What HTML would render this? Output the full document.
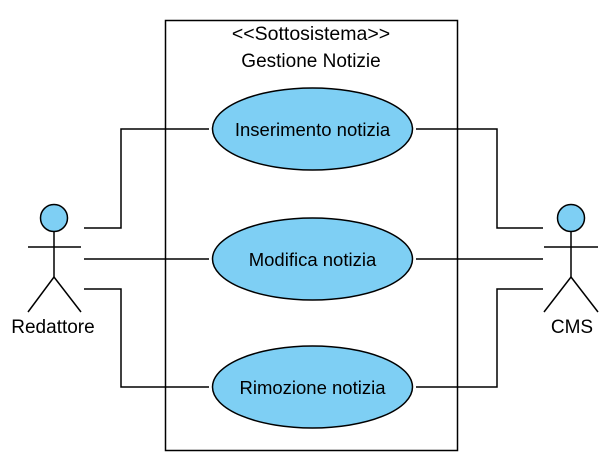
<!DOCTYPE html>
<html><head><style>body{margin:0;background:#fff}</style></head><body>
<svg width="612" height="470" xmlns="http://www.w3.org/2000/svg" font-family="Liberation Sans, Arial, sans-serif" font-size="18.5">
<rect x="0" y="0" width="612" height="470" fill="#fff"/>
<rect x="165.5" y="20.5" width="292" height="430" fill="none" stroke="#000" stroke-width="1.5"/>
<text x="311" y="40" text-anchor="middle" font-size="19.5">&lt;&lt;Sottosistema&gt;&gt;</text>
<text x="311" y="67" text-anchor="middle" font-size="19">Gestione Notizie</text>
<g fill="none" stroke="#000" stroke-width="1.5">
<polyline points="84,228 121,228 121,129 209,129"/>
<polyline points="84,259 209,259"/>
<polyline points="84,289 121,289 121,387 209,387"/>
<polyline points="416,129 497,129 497,228 543,228"/>
<polyline points="416,259 543,259"/>
<polyline points="416,387 497,387 497,289 543,289"/>
</g>
<g fill="#7ecff4" stroke="#000" stroke-width="1.5">
<ellipse cx="312.5" cy="129" rx="100" ry="41"/>
<ellipse cx="312.5" cy="259" rx="100" ry="41"/>
<ellipse cx="312.5" cy="387" rx="100" ry="41"/>
<circle cx="54" cy="218" r="13.5"/>
<circle cx="571" cy="218" r="13.5"/>
</g>
<g fill="none" stroke="#000" stroke-width="1.5">
<line x1="54" y1="231.5" x2="54" y2="277"/>
<line x1="28" y1="247" x2="81" y2="247"/>
<polyline points="28,312 54,277 81,312"/>
<line x1="571" y1="231.5" x2="571" y2="277"/>
<line x1="544" y1="247" x2="598" y2="247"/>
<polyline points="544,312 571,277 598,312"/>
</g>
<g text-anchor="middle">
<text x="312.5" y="136">Inserimento notizia</text>
<text x="312.5" y="266">Modifica notizia</text>
<text x="312.5" y="394">Rimozione notizia</text>
<text x="53" y="333" font-size="19">Redattore</text>
<text x="572" y="333" font-size="19">CMS</text>
</g>
</svg>
</body></html>
